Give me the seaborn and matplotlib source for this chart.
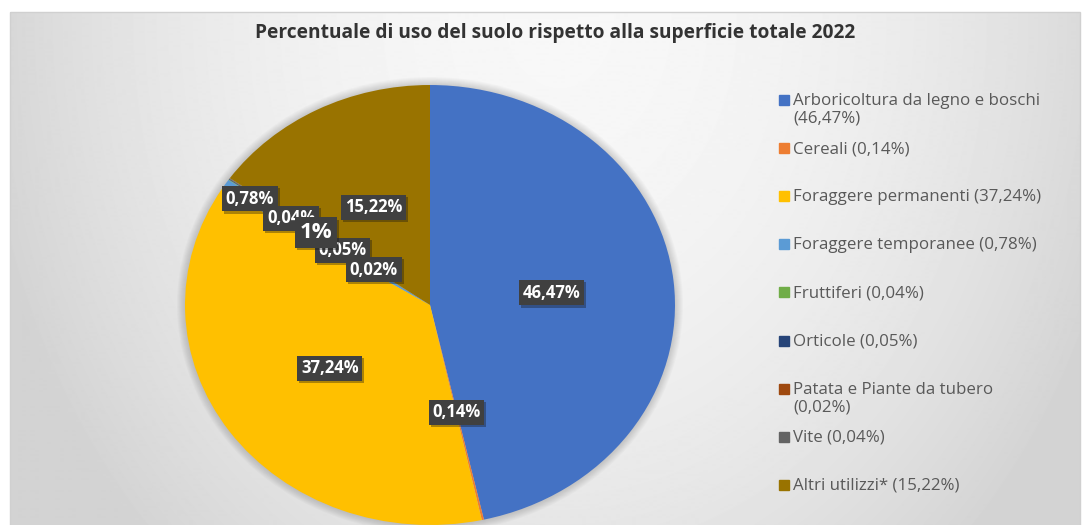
import textwrap
import numpy as np
import matplotlib
matplotlib.use('Agg')
import matplotlib.pyplot as plt
import matplotlib.patheffects as pe
from matplotlib.patches import Rectangle, Ellipse
import seaborn as sns

# -----------------------------------------------
# Data
# -----------------------------------------------

title = 'Percentuale di uso del suolo rispetto alla superficie totale 2022'
categories = ['Arboricoltura da legno e boschi', 'Cereali', 'Foraggere permanenti',
              'Foraggere temporanee', 'Fruttiferi', 'Orticole',
              'Patata e Piante da tubero', 'Vite', 'Altri utilizzi*']
values = [46.47, 0.14, 37.24, 0.78, 0.04, 0.05, 0.02, 0.04, 15.22]
data_labels = ['46,47%', '0,14%', '37,24%', '0,78%', '0,04%', '0,05%', '0,02%', '1%', '15,22%']

# -----------------------------------------------
# Style
# -----------------------------------------------

sns.set_style('white')
plt.rcParams['font.family'] = ['Open Sans', 'DejaVu Sans']

palette = sns.color_palette(['#4472C4', '#ED7D31', '#FFC000', '#5B9BD5', '#70AD47',
                             '#264478', '#9E480E', '#636363', '#997300'])
label_r = [0.5, 0.5, 0.5, 0.88, 0.69, 0.435, 0.28, 0.57, 0.5]
label_size = [12, 12, 12, 12, 12, 12, 12, 16, 12]

W, H = 1083, 525
fig = plt.figure(figsize=(W / 100, H / 100), dpi=100)

# background axes in pixel coordinates
bg = fig.add_axes([0, 0, 1, 1])
bg.set_xlim(0, W)
bg.set_ylim(H, 0)
bg.axis('off')

yy, xx = np.mgrid[12:H + 1, 10:1081]
d = np.sqrt(((xx - 560) / 560) ** 2 + ((yy - 20) / 700) ** 2)
grad = 0.97 - 0.13 * np.clip(d, 0, 1.05) ** 2
bg.imshow(grad, cmap='gray', vmin=0, vmax=1, extent=[10, 1080, H, 12], aspect='auto', zorder=0)
bg.add_patch(Rectangle((10, 12), 1070, 520, fill=False, ec='#d0d0d0', lw=1, zorder=1))

bg.text(555, 33, title, ha='center', va='center', fontsize=13.8, fontweight='bold', color='#333333')

# legend
for i, (name, v, c) in enumerate(zip(categories, values, palette)):
    y = 100 + i * 48.1
    bg.add_patch(Rectangle((779, y - 5), 10, 10, color=c, zorder=2))
    txt = textwrap.fill(f'{name} ({v:.2f}%)'.replace('.', ','), 31)
    bg.text(793, y - 7, txt, ha='left', va='top', fontsize=12.2, color='#595959', linespacing=1.15)

# -----------------------------------------------
# Pie (elliptical, as in the reference)
# -----------------------------------------------

cx, cy, rx, ry, m = 430, 220, 245, 220, 1.1
ax = fig.add_axes([(cx - rx * m) / W, (cy - ry * m) / H, 2 * rx * m / W, 2 * ry * m / H])
ax.set_facecolor('none')

# soft shadow
for k in range(1, 9):
    ax.add_patch(Ellipse((0, 0), 2 * (1 + k * 1.0 / rx), 2 * (1 + k * 1.0 / ry),
                         color='black', alpha=0.02, lw=0, zorder=0))

wedges, _ = ax.pie(values, colors=palette, startangle=90, counterclock=False,
                   radius=1, wedgeprops=dict(linewidth=0))

total = sum(values)
cum = 0
for v, lab, r, s in zip(values, data_labels, label_r, label_size):
    theta = np.deg2rad(90 - 360 * (cum + v / 2) / total)
    cum += v
    t = ax.text(r * np.cos(theta), r * np.sin(theta), lab, ha='center', va='center',
                color='white', fontsize=s, fontweight='bold', zorder=5,
                bbox=dict(boxstyle='square,pad=0.22', fc='#404040', ec='none'))
    t.get_bbox_patch().set_path_effects([pe.withSimplePatchShadow(offset=(1.5, -1.5), alpha=0.35)])

ax.set_aspect('auto')
ax.set_xlim(-m, m)
ax.set_ylim(-m, m)
ax.axis('off')

fig.savefig('out.png', dpi=100)
